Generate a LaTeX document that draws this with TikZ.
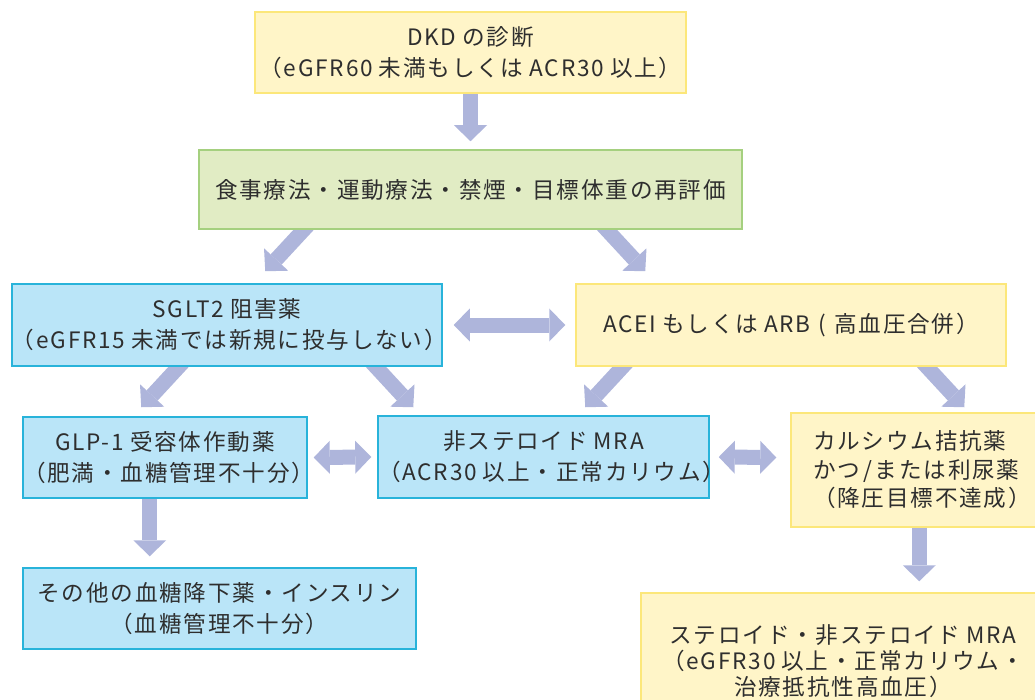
\documentclass[tikz,border=0pt]{standalone}
\usepackage{fontspec}
\setmainfont{Noto Sans CJK JP}[LetterSpace=8]
\usetikzlibrary{arrows.meta,backgrounds,calc}
\definecolor{ylfill}{HTML}{FFF5C8}
\definecolor{yldraw}{HTML}{FCE77A}
\definecolor{grfill}{HTML}{E1ECC4}
\definecolor{grdraw}{HTML}{A5D07F}
\definecolor{blfill}{HTML}{BAE5F8}
\definecolor{bldraw}{HTML}{28B3DA}
\definecolor{arr}{HTML}{AEB5DB}
\definecolor{txt}{HTML}{2E2E2E}
\newcommand\js{\kern6pt\relax}
\tikzset{
  box/.style={rectangle, line width=1.5pt, text=txt, font=\fontsize{22.6}{31}\selectfont, align=center, inner sep=0pt},
  bw/.style={minimum width=#1, text width=#1},
  yb/.style={box, fill=ylfill, draw=yldraw},
  gb/.style={box, fill=grfill, draw=grdraw},
  bb/.style={box, fill=blfill, draw=bldraw},
  tipA/.tip={Triangle[length=16pt,width=33pt,line width=0pt]},
  barrow/.style={draw=arr, line width=15pt, line cap=butt, -tipA},
  darrow/.style={draw=arr, line width=15pt, line cap=butt, tipA-tipA},
}
\begin{document}
\begin{tikzpicture}[x=1pt,y=-1pt]
\useasboundingbox (0,0) rectangle (1035,700);
\clip (0,0) rectangle (1035,700);
\node[yb, bw=431pt, minimum height=81pt] (dkd) at (470.5,52.5)
  {DKD\js の診断\\（eGFR60\js 未満もしくは\js ACR30\js 以上）};
\node[gb, bw=543pt, minimum height=79pt] (diet) at (470.5,189.5)
  {食事療法・運動療法・禁煙・目標体重の再評価};
\node[bb, bw=430pt, minimum height=82pt] (sglt) at (227,325)
  {SGLT2\js 阻害薬\\（eGFR15\js 未満では新規に投与しない）};
\node[yb, bw=430pt, minimum height=82pt] (acei) at (791,325)
  {ACEI\js もしくは\js ARB\kern8pt(\kern8pt 高血圧合併）};
\node[bb, bw=284pt, minimum height=81pt] (glp) at (165,457.5)
  {GLP-1\js 受容体作動薬\\（肥満・血糖管理不十分）};
\node[bb, bw=331pt, minimum height=82pt] (mra) at (543.5,457)
  {非ステロイド\js MRA\\（ACR30\js 以上・正常カリウム）};
\node[yb, minimum width=254pt, minimum height=114pt, text width=254pt, align=left,
  inner xsep=0pt, font=\fontsize{22.6}{28.5}\selectfont] (ca) at (918,470)
  {\hspace*{22pt}カルシウム拮抗薬\\\hspace*{22pt}かつ\kern3pt/\kern3pt または利尿薬\\\hspace*{22pt}（降圧目標不達成）};
\node[bb, bw=393pt, minimum height=81pt] (other) at (219.5,608.5)
  {その他の血糖降下薬・インスリン\\（血糖管理不十分）};
\node[yb, bw=404pt, minimum height=136pt,
  font=\fontsize{22.6}{26}\selectfont] (ster) at (843,661)
  {ステロイド・非ステロイド\js MRA\\（eGFR30\js 以上・正常カリウム・\\治療抵抗性高血圧）};
\begin{scope}[on background layer]
\draw[barrow] ([yshift=5pt]dkd.south) -- ([yshift=8pt]diet.north);
\draw[barrow] ([xshift=111pt,yshift=6pt]diet.south west) -- ([xshift=254pt,yshift=12pt]sglt.north west);
\draw[barrow] ([xshift=403pt,yshift=6pt]diet.south west) -- ([xshift=70pt,yshift=12pt]acei.north west);
\draw[barrow] ([xshift=173pt,yshift=6pt]sglt.south west) -- ([xshift=119pt,yshift=9pt]glp.north west);
\draw[barrow] ([xshift=359pt,yshift=6pt]sglt.south west) -- ([xshift=36pt,yshift=8pt]mra.north west);
\draw[barrow] ([xshift=53pt,yshift=6pt]acei.south west) -- ([xshift=208pt,yshift=8pt]mra.north west);
\draw[barrow] ([xshift=346pt,yshift=6pt]acei.south west) -- ([xshift=174pt,yshift=5pt]ca.north west);
\draw[barrow] ([xshift=127.5pt,yshift=5pt]glp.south west) -- ([xshift=127.5pt,yshift=11pt]other.north west);
\draw[barrow] ([xshift=129pt,yshift=5pt]ca.south west) -- ([xshift=279pt,yshift=11pt]ster.north west);
\end{scope}
\draw[darrow] ([xshift=11pt]sglt.east) -- ([xshift=-10pt]acei.west);
\draw[darrow] ([xshift=6pt]glp.east) -- ([xshift=-6pt]mra.west);
\draw[darrow] ([xshift=9pt]mra.east) -- ([xshift=-14pt,yshift=12.5pt]ca.west);
\end{tikzpicture}
\end{document}
